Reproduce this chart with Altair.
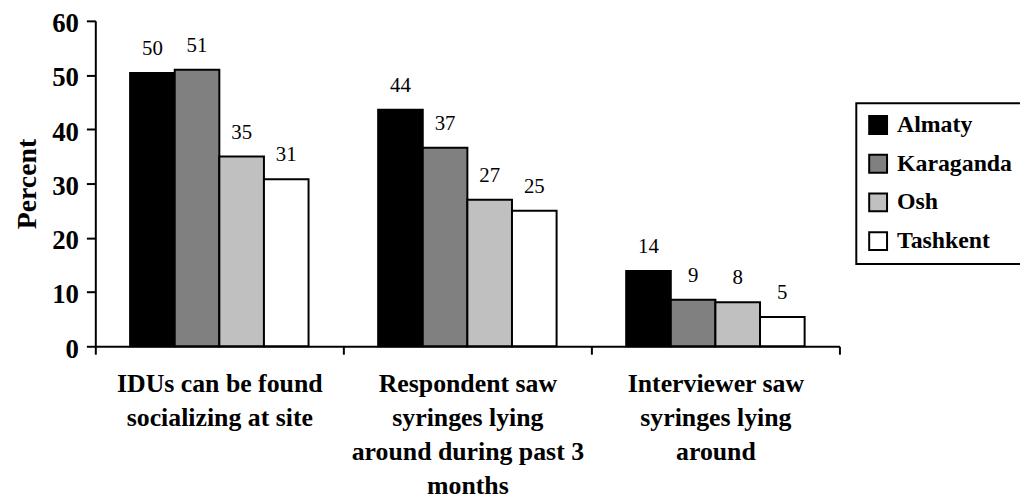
import json
import altair as alt
import pandas as pd

category_lines = [
    ["IDUs can be found", "socializing at site"],
    ["Respondent saw", "syringes lying", "around during past 3", "months"],
    ["Interviewer saw", "syringes lying", "around"],
]
categories = [" ".join(l) for l in category_lines]
cities = ["Almaty", "Karaganda", "Osh", "Tashkent"]
colors = ["#000000", "#808080", "#c0c0c0", "#ffffff"]

almaty = [50.4, 43.6, 13.9]
karaganda = [51.0, 36.6, 8.6]
osh = [35.0, 27.0, 8.1]
tashkent = [30.8, 25.0, 5.4]

almaty_lbl = [50, 44, 14]
karaganda_lbl = [51, 37, 9]
osh_lbl = [35, 27, 8]
tashkent_lbl = [31, 25, 5]

series = [almaty, karaganda, osh, tashkent]
series_lbl = [almaty_lbl, karaganda_lbl, osh_lbl, tashkent_lbl]

rows = []
for ci, city in enumerate(cities):
    for ki, cat in enumerate(categories):
        rows.append({"category": cat, "city": city,
                     "value": series[ci][ki], "label": str(series_lbl[ci][ki])})
df = pd.DataFrame(rows)

# multi-line axis labels
expr = "''"
for cat, lines in reversed(list(zip(categories, category_lines))):
    expr = f"datum.label == {json.dumps(cat)} ? {json.dumps(lines)} : ({expr})"

FONT = "Liberation Serif"

x_enc = alt.X("category:N", sort=categories, title=None,
              scale=alt.Scale(paddingInner=0, paddingOuter=0),
              axis=alt.Axis(labelExpr=expr, labelAngle=0, labelAlign="center",
                            labelBaseline="top", labelFont=FONT, labelFontSize=26,
                            labelFontWeight="bold", labelColor="black",
                            labelLineHeight=34, labelPadding=17, labelLimit=400,
                            tickBand="extent", tickSize=8, tickWidth=2, tickColor="black",
                            domainColor="black", domainWidth=2, grid=False))
xoff = alt.XOffset("city:N", sort=cities,
                   scale=alt.Scale(paddingInner=0, paddingOuter=0.78))

bars = alt.Chart(df).mark_bar(stroke="black", strokeWidth=2).encode(
    x=x_enc,
    xOffset=xoff,
    y=alt.Y("value:Q", title="Percent",
            scale=alt.Scale(domain=[0, 60], nice=False),
            axis=alt.Axis(values=[0, 10, 20, 30, 40, 50, 60], grid=False,
                          labelFont=FONT, labelFontSize=27, labelFontWeight="bold",
                          labelColor="black", labelPadding=8, labelOffset=3,
                          tickSize=9, tickWidth=2, tickColor="black",
                          domainColor="black", domainWidth=2,
                          titleFont=FONT, titleFontSize=28, titleFontWeight="bold",
                          titleColor="black", titlePadding=10)),
    fill=alt.Fill("city:N", sort=cities, title=None,
                  scale=alt.Scale(domain=cities, range=colors),
                  legend=alt.Legend(orient="none", legendX=767, legendY=83,
                                    symbolType="square", symbolSize=324,
                                    symbolStrokeColor="black", symbolStrokeWidth=2,
                                    labelFont=FONT, labelFontSize=24,
                                    labelFontWeight="bold", labelColor="black",
                                    labelOffset=7, rowPadding=13, padding=10,
                                    strokeColor="black", fillColor="white")),
)

text = alt.Chart(df).mark_text(font=FONT, fontSize=21, baseline="alphabetic",
                               dy=-18, color="black").encode(
    x=alt.X("category:N", sort=categories),
    xOffset=alt.XOffset("city:N", sort=cities),
    y=alt.Y("value:Q"),
    text="label:N",
)

chart = alt.layer(bars, text).properties(
    width=750, height=328,
    autosize=alt.AutoSizeParams(type="none"),
    padding={"left": 88, "top": 11, "right": 182, "bottom": 155},
).configure_view(stroke=None).configure_legend(strokeWidth=2)

chart.save("out.html", embed_options={"renderer": "svg", "actions": False})
